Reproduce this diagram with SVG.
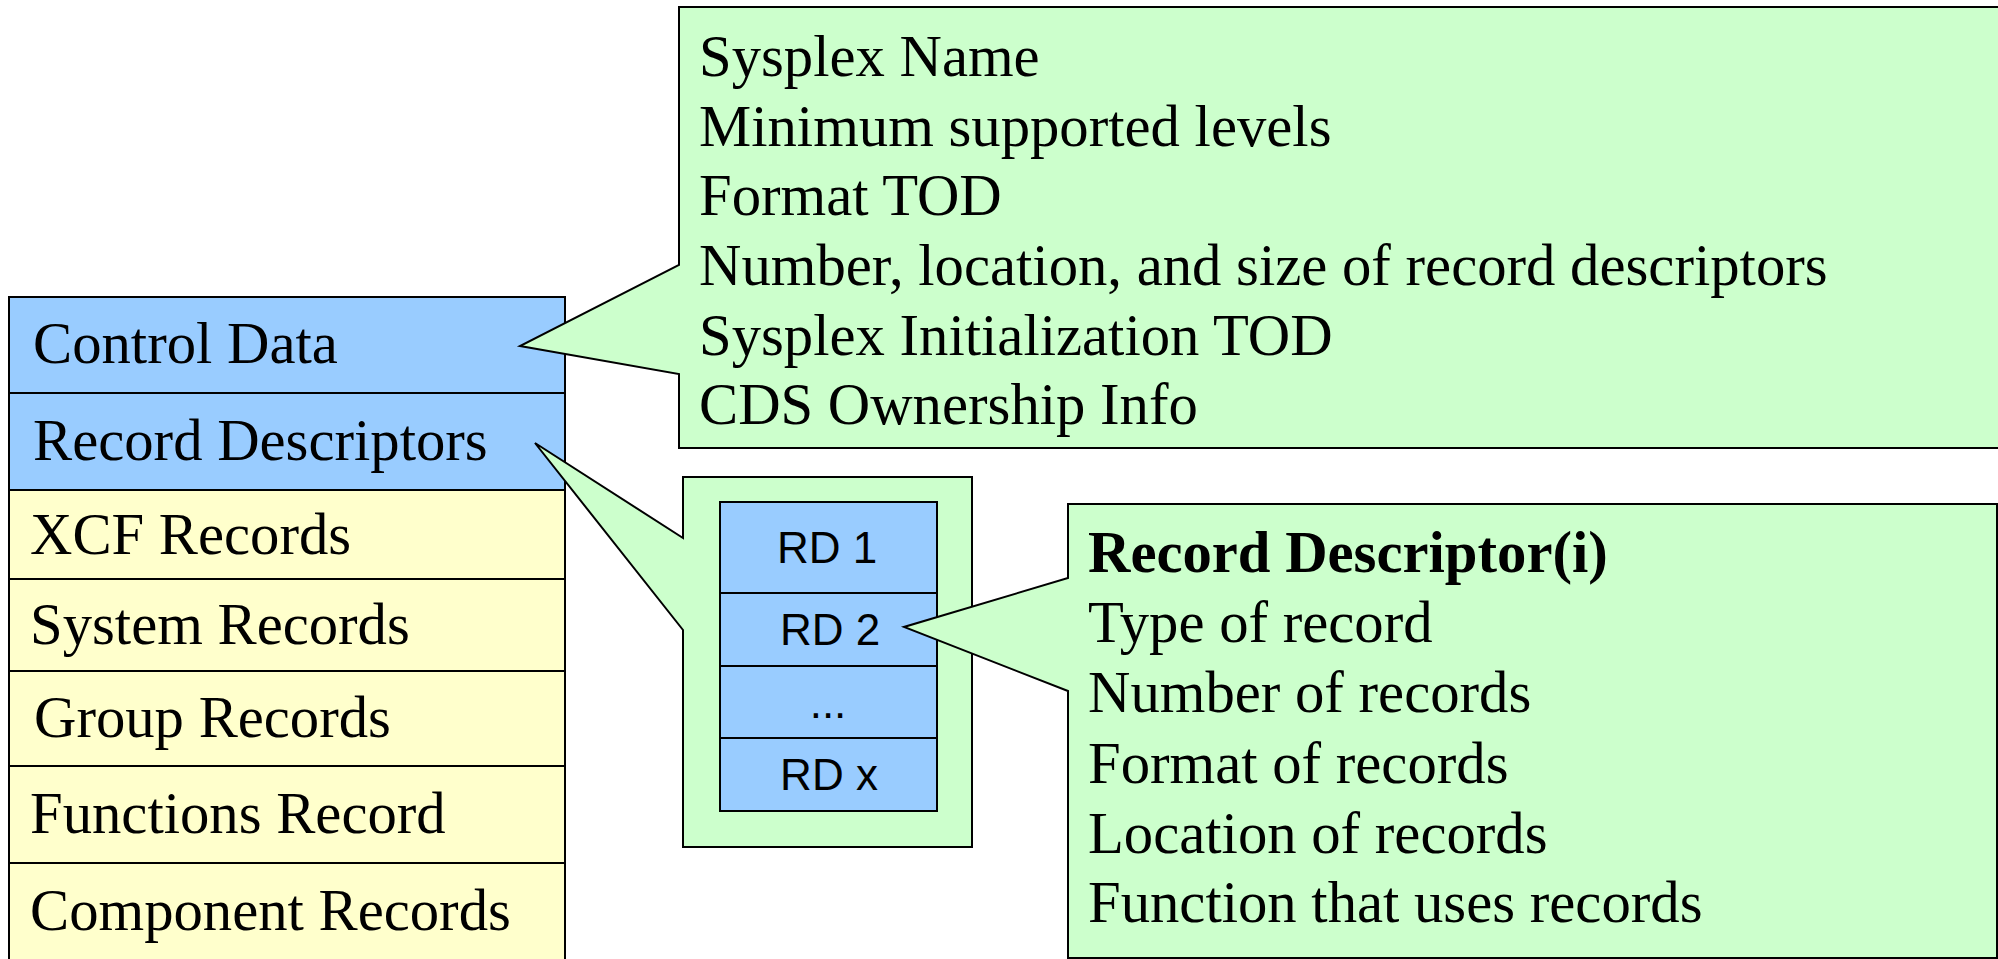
<svg xmlns="http://www.w3.org/2000/svg" width="1998" height="959" viewBox="0 0 1998 959">
<style>
.blue{fill:#99CCFF;stroke:#000;stroke-width:2}
.yel{fill:#FFFFCC;stroke:#000;stroke-width:2}
.grn{fill:#CCFFCC;stroke:#000;stroke-width:2;stroke-linejoin:miter}
.t{font-family:"Liberation Serif","Times New Roman",serif;font-size:58.7px;fill:#000}
.b{font-weight:bold}
.s{font-family:"Liberation Sans",Arial,sans-serif;font-size:44px;fill:#000;text-anchor:middle}
</style>
<rect width="1998" height="959" fill="#fff"/>
<g id="cds-stack">
  <g id="control-data"><rect class="blue" x="9" y="297" width="556" height="96"/><text class="t" x="33" y="363">Control Data</text></g>
  <g id="record-descriptors"><rect class="blue" x="9" y="393" width="556" height="97"/><text class="t" x="33" y="460">Record Descriptors</text></g>
  <g id="xcf-records"><rect class="yel" x="9" y="490" width="556" height="89"/><text class="t" x="30" y="554">XCF Records</text></g>
  <g id="system-records"><rect class="yel" x="9" y="579" width="556" height="92"/><text class="t" x="30" y="644">System Records</text></g>
  <g id="group-records"><rect class="yel" x="9" y="671" width="556" height="95"/><text class="t" x="34" y="737">Group Records</text></g>
  <g id="functions-record"><rect class="yel" x="9" y="766" width="556" height="97"/><text class="t" x="30" y="833">Functions Record</text></g>
  <g id="component-records"><rect class="yel" x="9" y="863" width="556" height="110"/><text class="t" x="30" y="930">Component Records</text></g>
</g>
<g id="connectors"></g>
<g id="control-data-callout">
  <polygon class="grn" points="679,7 2010,7 2010,448 679,448 679,374 520,346 679,265"/>
  <text class="t" x="699" y="76">Sysplex Name</text>
  <text class="t" x="699" y="146">Minimum supported levels</text>
  <text class="t" x="699" y="215">Format TOD</text>
  <text class="t" x="699" y="285">Number, location, and size of record descriptors</text>
  <text class="t" x="699" y="355">Sysplex Initialization TOD</text>
  <text class="t" x="699" y="424">CDS Ownership Info</text>
</g>
<g id="rd-container-callout">
  <polygon class="grn" points="683,477 972,477 972,847 683,847 683,630 535,443 683,538"/>
</g>
<g id="rd-list">
  <g id="rd1"><rect class="blue" x="720" y="502" width="217" height="91"/><text class="s" x="827" y="563">RD 1</text></g>
  <g id="rd2"><rect class="blue" x="720" y="593" width="217" height="73"/><text class="s" x="830" y="645">RD 2</text></g>
  <g id="rd-dots"><rect class="blue" x="720" y="666" width="217" height="72"/><text class="s" x="828" y="718">...</text></g>
  <g id="rdx"><rect class="blue" x="720" y="738" width="217" height="73"/><text class="s" x="829" y="790">RD x</text></g>
</g>
<g id="record-descriptor-callout">
  <polygon class="grn" points="1068,504 1997,504 1997,958 1068,958 1068,691 904,627 1068,578"/>
  <text class="t b" x="1088" y="572">Record Descriptor(i)</text>
  <text class="t" x="1088" y="642">Type of record</text>
  <text class="t" x="1088" y="712">Number of records</text>
  <text class="t" x="1088" y="783">Format of records</text>
  <text class="t" x="1088" y="853">Location of records</text>
  <text class="t" x="1088" y="922">Function that uses records</text>
</g>
</svg>
